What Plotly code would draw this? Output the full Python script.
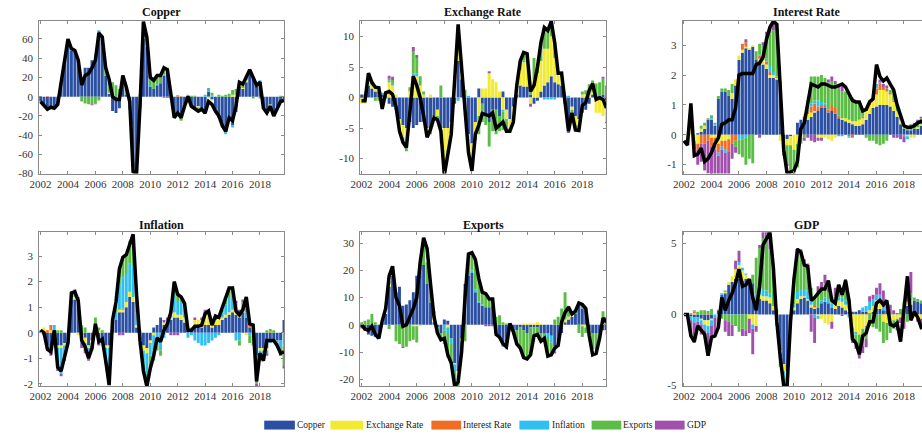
import plotly.graph_objects as go

# ---------------- data (quarterly, 2002Q1 .. 2019Q4) ----------------
years = list(range(2002, 2020))
quarters = [1, 2, 3, 4]
x_ticks = [2002, 2004, 2006, 2008, 2010, 2012, 2014, 2016, 2018]

components = ["Copper", "Exchange Rate", "Interest Rate", "Inflation", "Exports", "GDP"]
comp_colors = ["#2b4fa3", "#f2ea2e", "#f26d24", "#2fbff0", "#5bbd45", "#a150ad"]

# ---- Copper panel ----
cu_total = [-5, -9, -13, -11, -12, -8, 15, 35, 60, 50, 48, 38,
            12, 22, 24, 30, 38, 66, 62, 30, 18, 0, -3, -3,
            22, 10, -5, -78, -80, -10, 78, 62, 20, 17, 22, 22,
            30, 28, 0, -22, -17, -22, -10, 0, -10, -12, -15, -13,
            -17, -5, -8, -15, -20, -30, -36, -22, -25, -10, 15, 13,
            20, 28, 20, 12, 15, -12, -17, -10, -20, -12, -5, -4]
cu_cu = [-5, -9, -12, -11, -12, -8, 14, 33, 55, 48, 47, 38,
         18, 30, 30, 38, 42, 68, 62, 22, 3, -15, -17, -12,
         20, 2, -8, -72, -75, -12, 60, 52, 10, 8, 12, 14,
         22, 28, 2, -20, -18, -22, -8, -2, -10, -12, -10, -12,
         -14, 5, -3, -13, -22, -32, -37, -24, -30, -16, 10, 8,
         15, 26, 20, 10, 16, -10, -14, -8, -16, -10, -4, -3]
cu_er = [0, 0, -1, 0, 0, 0, 0, 0, 0, 0, 0, 0,
         0, 0, 0, 0, 1, 0, 0, 0, 1, 0, 0, 0,
         0, 0, -1, 0, -1, 0, 1, 0, 0, 0, 0, 0,
         0, 0, 0, 0, 0, 0, 0, 0, -1, -1, -1, 0,
         -2, -2, -1, 0, 0, 0, 0, 0, 2, 2, 2, 1,
         2, 0, 0, 0, 0, 0, 0, 0, 0, 0, -1, 0]
cu_ir = [0, 0, 0.5, 0, 0, 0, 0, 0, 0, 0, 0, 0,
         0, 0, 0, 0, 0, 0, 0, 0, 0, 0, 0, 0,
         0, 0, 0, 0, 0, 0, 0, 0, 0, 0, 0, 0,
         0, 0, 0, 0, 0.5, 0.5, 0, 0, 0, 0, 0, 0,
         0, 0, 0, 0, 0, 0, 0, 0, 0, 0, 0, 0,
         0, 0, 0, 0, 0, 0, 0, 0, 0, 0, 0, 0]
cu_inf = [0, 0, 0, 0, 0, 0, 0, 0, 1, 1, 0, 0,
          0, 0, 0, 0, 1, 1, 0, 0, 0, 0, 0, 0,
          0, 0, -1, -2, -2, 0, 2, 1, 1, 0, 1, 0,
          1, 0, 0, 0, 0, 0, 0, 0, 0, 0, -1, 0,
          2, 2, 1, 0, 0, 0, -2, -1, -2, 0, 0, 0,
          0, 0, 1, 0, 1, 0, 0, 0, 0, -1, 0, 0]
cu_exp = [0, 0, -1, 0, 0, 0, 1, 2, 2, 1, 0, 0,
          -5, -7, -8, -8, -7, -4, 0, 7, 14, 15, 12, 8,
          2, 6, -3, -4, -3, 2, 14, 8, 8, 9, 8, 8,
          6, 2, -2, -2, 1, -3, -2, 2, 1, 1, -3, -1,
          -2, 2, 3, -2, 2, 1, 2, 3, 5, 6, 4, 4,
          3, 2, -2, 2, -2, -2, -3, -2, -4, -2, 1, -1]
cu_gdp = [0, 0, 0, 0, 0, 0, 0, 0, 0, 0, 0, 0,
          0, 0, 0, -1, -1, 0, 0, 0, 0, 0, 0, 0,
          0, 0, 0, 0, 0, 0, 0, 0, 0, 0, 0, 0,
          -1, -1, 0, 0, 0, 0, 0, 0, 0, 0, 0, 0,
          0, 0, 0, 0, 0, 0, 0, 0, 0, 0, 0, 0,
          0, 0, 0, 0, 0, 0, 0, 0, 0, 0, 0, 0]

# ---- Exchange Rate panel ----
er_total = [-0.5, -0.5, 4.0, 2.5, 1.7, 1.6, -1.8, 0.8, 1.0, 0.5, -1.5, -5.5,
            -7.3, -8.2, -2.5, 3.5, 2.0, 0.0, -3.0, -6.5, -5.2, -3.3, -3.6, -5.5,
            -12.7, -9.0, -6.0, 3.0, 12.0, 5.0, -2.0, -9.0, -12.0, -6.0, -4.5, -2.6,
            -2.8, -3.0, -2.5, -5.0, -4.5, -4.0, -5.5, -5.5, -4.0, 2.0, 6.0, 7.4,
            7.2, 1.0, 2.0, 5.0, 9.0, 11.5, 11.0, 12.5, 9.0, 4.0, 4.0, -1.0,
            -5.5, -2.5, -5.3, -5.4, -1.3, -0.8, 1.2, 2.3, -0.3, 0.0, -0.3, -1.7]
er_cu = [0.5, 0.5, 2.0, 1.5, 1.0, 1.0, 0.5, 0.5, -1.0, -1.5, -2.0, -3.5,
         -4.5, -5.0, -4.0, -5.0, -4.5, -4.0, -4.0, -5.0, -5.5, -3.0, -2.0, -5.0,
         -5.0, -5.0, -4.0, -1.0, 6.0, 3.0, -2.0, -6.0, -7.5, -4.0, 1.5, -1.0,
         -3.0, -4.0, -2.0, -2.0, -3.0, 1.0, -2.0, -3.5, -1.5, 0.5, 2.0, 1.8,
         1.8, 0.5, -1.0, -0.5, 1.0, 2.0, 2.5, 3.5, 2.5, 2.2, 2.0, -1.0,
         -3.5, -1.5, -3.0, -3.5, -2.5, -2.0, -1.0, 0.5, 0.3, 0.3, 0.5, -0.5]
er_er = [-1.0, -1.0, 1.5, 0.5, 0.5, 0.5, -1.0, 0.5, 2.5, 2.0, 0.5, -1.5,
         -2.0, -2.5, 1.0, 3.5, 3.5, 2.0, 0.5, -1.0, 0.5, -0.2, -1.0, -2.5,
         -6.0, -3.5, -1.5, 1.5, 2.0, 1.0, -1.0, -2.0, -3.5, -2.0, -3.0, 1.5,
         1.5, 4.0, 3.0, 2.5, 1.0, -2.0, -1.5, -1.5, -2.0, 1.0, 2.5, 4.0,
         4.0, -1.0, 3.0, 4.0, 5.0, 6.0, 5.5, 6.5, 4.0, 1.5, 1.5, 0.0,
         -1.5, -0.5, -1.5, -1.2, 0.5, 0.5, 0.5, 0.5, -2.5, -2.5, -3.0, -3.5]
er_ir = [0, 0, 0, 0, 0, 0, 0, 0, 0, 0, 0, 0,
         0, 0, 0.2, 0, 0, 0, 0, 0, 0, 0, 0, 0,
         0, 0, 0, 0, 0, 0, 0, 0, 0, 0, 0, 0,
         0, 0, 0, 0, 0, 0, 0, 0, 0, 0, 0, 0,
         0, 0, 0, 0, 0, 0, 0, 0, 0, 0, 0, 0,
         0, 0, -0.2, 0, 0, 0, 0, 0, 0, 0, 0, 0]
er_inf = [0, 0, 0, 0, 0, 0.3, 0.3, 0, 0.3, 0.4, 0, 0,
          -0.5, -0.8, 0, 0.5, 0.5, 0, 0, 0, 0, 0, 0, 0,
          0, 0, 0, 0, -0.5, 0.3, 0.3, 0.3, 0, 0, 0, 0,
          0, 0, 0, 0, 0, -0.3, -0.5, 0, 0, 0, 0, 0.3,
          0, 0, 0, 0, 0, -0.3, -0.3, -0.3, -0.3, 0, 0.3, 0.3,
          0.3, 0, 0, 0, 0, 0, 0, 0, 0, 0, 0, 0]
er_exp = [0.0, 0.0, 0.5, 0.5, -0.5, -0.5, -1.0, -0.2, 0.3, 0.5, 0.0, -0.5,
          -0.5, -0.5, 0.5, 3.5, 2.5, 1.5, 0.5, -0.5, -0.5, 0.0, -0.5, 2.0,
          -1.5, -0.5, -0.5, 2.0, 2.0, 0.5, 1.0, -0.5, -0.5, -1.0, -3.0, -3.0,
          -1.5, -4.0, -3.5, -4.0, -2.5, -3.0, -1.5, -0.5, -0.5, 0.5, 1.0, 1.2,
          1.0, 1.5, 3.5, 1.5, 3.0, 3.5, 3.0, 2.5, 2.5, 0.3, 0.5, 0.0,
          -0.5, -0.5, -0.8, -0.7, 0.5, 0.7, 1.7, 1.8, 2.0, 2.2, 2.6, 2.0]
er_gdp = [0, 0, 0, 0, 0, 0, 0, 0, 0.5, 0.5, 0, 0,
          0, 0, 0, 0.8, 0.5, 0, 0, 0, 0, 0, 0, 0,
          0, 0, 0, 0, 0.3, 0, 0, 0, -0.5, 0, 0, 0,
          0, 0.3, 0, 0, 0, 0, 0, 0, 0, 0, 0.3, 0,
          0, -0.5, 0, 0, 0, 0, 0, 0, 0, 0, 0, 0,
          -0.3, 0, 0, 0, 0, 0, 0, 0, 0, 0, 0.3, -0.2]

# ---- Interest Rate panel ----
ir_total = [-0.2, -0.35, 1.05, -0.7, -0.65, -0.45, -0.9, -0.8, -0.6, -0.3, -0.1, 0.35,
            0.4, 0.5, 0.5, 0.9, 2.0, 2.05, 2.05, 2.05, 2.05, 2.35, 2.4, 2.6,
            3.2, 3.6, 3.8, 3.7, 1.5, -0.5, -1.3, -1.25, -1.2, -0.9, 0.2, 0.4,
            1.0, 1.7, 1.65, 1.6, 1.7, 1.7, 1.65, 1.6, 1.6, 1.65, 1.7, 1.6,
            1.4, 1.15, 1.1, 1.1, 0.8, 0.85, 1.1, 1.2, 2.35, 1.95, 1.8, 1.9,
            1.7, 1.5, 1.0, 0.6, 0.3, 0.25, 0.25, 0.3, 0.4, 0.45, 0.4, 0.35]
ir_cu = [0.0, 0.0, 0.0, 0.0, 0.05, 0.1, 0.2, 0.5, 0.5, 0.3, 1.2, 1.45,
         1.45, 1.3, 1.2, 1.65, 2.5, 2.75, 2.9, 2.85, 2.95, 2.5, 2.45, 2.35,
         2.2, 1.9, 1.9, 1.85, 1.6, -0.2, -0.15, -0.05, 0.0, 0.4, 0.5, 0.6,
         0.5, 0.6, 0.75, 0.8, 0.9, 0.9, 0.75, 0.8, 0.7, 0.55, 0.5, 0.45,
         0.4, 0.35, 0.3, 0.3, 0.35, 0.5, 0.7, 0.9, 0.95, 1.0, 1.0, 1.0,
         0.95, 0.8, 0.6, 0.35, 0.2, 0.15, 0.15, 0.2, 0.2, 0.3, 0.3, 0.3]
ir_er = [0.0, -0.1, 0.2, -0.2, -0.3, 0.1, 0.1, 0.0, -0.1, -0.1, -0.3, -0.2,
         -0.2, -0.15, 0.2, 0.2, 0.15, 0.1, 0.05, 0.05, 0.05, 0.0, 0.1, 0.15,
         0.15, 0.1, 0.1, 0.05, -0.2, -0.1, -0.2, -0.3, -0.5, -0.3, -0.1, 0.1,
         0.2, 0.15, 0.05, -0.1, -0.1, -0.1, -0.15, -0.2, -0.1, 0.0, 0.05, 0.1,
         0.1, 0.1, 0.15, 0.2, 0.2, 0.3, 0.3, 0.3, 0.4, 0.5, 0.5, 0.45,
         0.4, 0.3, 0.2, 0.15, 0.0, -0.05, -0.1, -0.1, 0.05, 0.05, 0.0, 0.0]
ir_ir = [0.0, 0.0, 0.1, -0.1, -0.2, -0.3, -0.3, -0.2, -0.3, -0.4, -0.3, -0.2,
         -0.3, -0.4, -0.3, -0.2, 0.0, 0.2, 0.15, 0.0, 0.0, 0.0, 0.1, 0.15,
         0.1, 0.1, 0.0, 0.0, 0.0, 0.0, 0.0, 0.0, 0.0, 0.0, 0.0, 0.0,
         0.1, 0.2, 0.25, 0.15, 0.1, 0.1, 0.1, 0.2, 0.2, 0.1, 0.0, 0.0,
         -0.05, -0.1, 0.0, 0.0, 0.05, 0.05, 0.1, 0.1, 0.2, 0.2, 0.1, 0.1,
         0.05, 0.05, 0.0, 0.0, 0.0, 0.0, 0.0, 0.0, 0.0, 0.0, 0.0, 0.0]
ir_inf = [0.0, 0.0, 0.0, 0.0, 0.0, 0.0, 0.0, 0.0, 0.05, 0.05, -0.1, -0.1,
          -0.1, 0.0, 0.0, 0.0, -0.15, -0.15, -0.1, 0.0, 0.0, 0.0, 0.05, 0.05,
          0.1, 0.2, 0.1, 0.05, 0.0, 0.0, 0.0, 0.0, 0.0, 0.0, 0.0, 0.0,
          0.05, 0.1, 0.1, 0.2, 0.1, 0.05, 0.0, 0.0, 0.0, -0.05, -0.05, 0.0,
          -0.05, 0.0, 0.0, 0.0, 0.0, 0.0, 0.05, 0.05, 0.15, 0.05, 0.0, 0.0,
          0.0, 0.0, 0.0, 0.0, -0.05, -0.1, 0.0, 0.0, 0.0, 0.0, 0.0, 0.0]
ir_exp = [0.0, 0.0, 0.0, 0.0, 0.0, 0.1, 0.1, 0.05, 0.1, 0.05, 0.1, 0.1,
          0.1, 0.2, 0.3, -0.2, -0.5, -0.6, -0.9, -0.8, -0.95, 0.3, 0.35, 0.3,
          0.8, 1.1, 1.4, 1.55, 0.2, -0.3, -0.6, -0.9, -1.0, -0.8, -0.2, -0.1,
          0.3, 0.9, 0.8, 0.8, 0.9, 0.85, 0.9, 0.8, 0.8, 0.9, 0.9, 0.9,
          0.9, 0.8, 0.65, 0.6, 0.2, -0.1, -0.2, -0.2, -0.3, -0.35, -0.3, -0.2,
          0.1, 0.3, 0.2, 0.1, 0.05, 0.1, 0.2, 0.1, 0.15, 0.2, 0.2, 0.15]
ir_gdp = [0.0, -0.1, 0.0, -0.2, -0.5, -0.6, -0.9, -1.1, -1.2, -1.3, -1.2, -1.1,
          -1.0, -0.9, -0.5, -0.2, 0.0, 0.0, 0.1, 0.0, 0.0, 0.0, -0.1, 0.1,
          0.1, 0.2, 0.3, 0.2, 0.0, -0.1, -0.1, 0.0, -0.05, 0.0, 0.0, -0.1,
          -0.1, -0.2, -0.25, -0.1, -0.1, 0.0, 0.1, 0.15, 0.1, 0.1, 0.2, 0.0,
          0.0, 0.0, 0.0, 0.0, 0.0, 0.0, 0.0, 0.0, 0.0, 0.1, 0.1, 0.1,
          0.0, -0.1, -0.1, -0.15, -0.2, 0.0, 0.0, 0.1, 0.1, 0.05, 0.0, 0.0]

# ---- Inflation panel ----
inf_total = [0.1, 0.0, -0.65, -0.75, 0.1, -1.35, -1.5, -1.0, -0.4, 1.55, 1.6, 1.25,
             -0.3, -0.55, -1.0, -0.6, 0.35, -0.35, -0.25, -1.1, -2.05, 0.5, 1.2, 2.5,
             2.95, 3.05, 3.5, 3.85, 1.5, -0.3, -1.5, -2.1, -1.4, -0.9, -0.2, -0.35,
             0.1, 0.35, 0.8, 2.0, 1.5, 1.4, 1.15, 0.1, 0.1, 0.25, 0.25, 0.3,
             0.75, 0.85, 0.3, 0.65, 0.6, 1.0, 1.3, 1.75, 1.75, 0.85, 0.7, 0.9,
             1.4, 0.35, 0.3, -1.9, -0.8, -1.1, -0.3, -0.3, -0.3, -0.5, -0.8, -0.75]
inf_cu = [0.0, -0.1, -0.5, -0.6, -0.2, -0.5, -0.5, -0.4, -0.3, 1.3, 1.3, 1.1,
          -0.1, -0.2, -0.5, -0.3, -0.1, -0.3, -0.3, -0.5, -0.5, 0.2, 0.5, 0.8,
          0.8, 1.0, 1.4, 1.2, 0.2, -0.3, -0.5, -0.6, -0.3, 0.2, 0.3, 0.6,
          0.3, 0.3, 0.5, 0.6, 0.6, 0.5, 0.4, 0.1, 0.1, 0.2, 0.2, 0.2,
          0.3, 0.3, 0.2, 0.3, 0.3, 0.5, 0.6, 0.7, 0.8, 0.7, 0.6, 0.8,
          0.6, 0.2, 0.1, -0.9, -0.6, -0.6, -0.6, -0.3, -0.3, -0.3, -0.3, 0.5]
inf_er = [0.0, 0.2, 0.0, 0.1, 0.0, -0.1, -0.1, -0.1, 0.0, 0.1, 0.1, -0.1,
          -0.2, -0.2, -0.1, -0.1, 0.2, 0.1, 0.0, -0.1, -0.1, 0.0, 0.0, 0.1,
          0.1, 0.2, 0.2, 0.2, 0.1, -0.1, -0.2, -0.2, -0.1, -0.1, 0.0, 0.0,
          0.1, 0.1, 0.1, 0.2, 0.1, 0.2, 0.2, 0.1, 0.1, 0.3, 0.3, 0.3,
          0.4, 0.4, 0.2, 0.2, 0.2, 0.1, 0.1, 0.1, 0.1, 0.2, 0.2, 0.0,
          -0.1, 0.0, 0.0, 0.0, -0.1, -0.1, -0.1, 0.0, 0.0, 0.0, 0.0, 0.0]
inf_ir = [0.0, 0.0, 0.1, 0.2, 0.0, 0.0, 0.0, 0.0, 0.0, 0.0, 0.0, 0.0,
          0.0, 0.0, 0.0, 0.0, 0.0, 0.0, 0.0, 0.0, 0.0, 0.0, 0.0, 0.0,
          0.05, 0.0, 0.0, 0.0, 0.0, 0.0, 0.0, 0.0, 0.0, 0.0, 0.0, 0.0,
          0.0, 0.0, 0.0, 0.0, 0.0, 0.0, 0.0, 0.0, 0.0, 0.0, 0.0, 0.0,
          0.0, 0.0, 0.0, 0.0, 0.0, 0.0, 0.0, 0.0, 0.0, 0.05, 0.0, 0.0,
          0.0, 0.1, 0.0, 0.0, 0.0, 0.0, 0.0, 0.05, 0.0, 0.0, 0.0, 0.0]
inf_inf = [0.1, 0.0, -0.1, -0.2, 0.3, -0.8, -1.0, -0.5, -0.1, 0.2, 0.3, 0.1,
           -0.1, -0.2, -0.3, -0.1, 0.1, -0.1, 0.0, -0.3, -1.0, 0.2, 0.3, 1.0,
           1.2, 1.1, 1.1, 1.2, 0.5, -0.1, -0.5, -0.8, -0.5, -0.6, -0.5, -0.7,
           -0.2, 0.1, 0.2, 0.7, 0.5, 0.5, 0.3, -0.2, -0.1, -0.3, -0.4, -0.5,
           -0.5, -0.4, -0.3, -0.2, -0.1, 0.2, 0.4, 0.6, 0.6, -0.3, -0.3, 0.2,
           0.2, -0.1, 0.0, -0.6, -0.2, -0.3, -0.1, -0.1, 0.0, -0.1, -0.3, -0.5]
inf_exp = [0.0, 0.0, 0.0, 0.0, 0.0, 0.1, 0.1, 0.0, 0.0, 0.0, 0.0, 0.2,
           0.3, 0.2, -0.1, -0.1, 0.3, 0.1, 0.1, -0.2, -0.4, 0.1, 0.3, 0.6,
           0.8, 0.8, 0.9, 1.2, 0.6, 0.1, -0.3, -0.4, -0.5, -0.4, -0.2, -0.2,
           0.0, 0.0, 0.1, 0.5, 0.3, 0.2, 0.2, 0.0, 0.0, 0.0, 0.0, 0.0,
           0.1, 0.1, 0.0, 0.0, 0.0, 0.1, 0.2, 0.3, 0.3, 0.2, -0.2, 0.2,
           0.3, -0.3, -0.5, -0.5, 0.0, 0.0, 0.1, 0.1, 0.1, 0.0, -0.2, -0.8]
inf_gdp = [0.0, 0.0, -0.1, -0.1, 0.0, -0.1, -0.1, -0.1, 0.0, 0.0, 0.0, 0.0,
           -0.2, -0.2, -0.1, -0.1, 0.0, -0.1, -0.1, -0.1, 0.0, 0.0, 0.0, -0.1,
           -0.1, 0.0, 0.0, 0.0, 0.0, 0.0, 0.0, 0.0, 0.0, 0.0, 0.0, 0.0,
           0.1, 0.1, -0.1, -0.1, -0.1, 0.0, 0.0, 0.0, 0.0, 0.1, 0.0, 0.1,
           0.1, 0.1, 0.1, 0.1, 0.0, 0.0, 0.0, 0.0, 0.0, 0.1, 0.1, 0.1,
           0.1, 0.1, 0.0, -0.1, -0.1, -0.1, -0.1, 0.0, 0.0, -0.1, -0.1, -0.1]

# ---- Exports panel ----
exp_total = [0, -1.5, -2.0, -0.5, -3.5, -5, 1.5, 6, 18, 21.5, 10, 7,
             -0.5, 0, 3, 6, 10, 23, 32, 28, 15, 3, -3, -5.5,
             -5, -11, -14, -22.5, -21, -10, 10, 26, 26.5, 24, 17, 12,
             11.5, 9.5, 9.5, -3.5, -4.5, -7, -8, 0.5, -2.5, -7, -8.5, -12,
             -12.5, -11, -4, -3.5, -6, -5, -11.5, -11, -8.5, -7.5, 1, 4.5,
             6.5, 4, 5, 8, 7.5, 6, -4, -11, -10.5, -5, 2.5, 1]
exp_cu = [-1, -2, -3.5, -4, -4.5, -5, 0.5, 4, 14, 18, 12, 14,
          7, 7.5, 9, 12, 18, 22, 22, 15, 8, 1, -1, -3,
          2, 1.5, -5, -14, -17, -5, 15, 18, 19, 12, 8, 7,
          6.5, 6.5, 7, -3, -4, -7, -8, 0.5, -2, -2, -1, -2,
          -3, -1, -1, -1, -3, -3, -3, -4, -8, -7, -3, 1,
          2, 3, 4, 7, 6, 6, -2, -3, -3, -3, -2, -2]
exp_er = [0, 0, 0, 0, 0, 0, 0, 0, 1, 0.5, 0, 0,
          0, -0.5, 0, -0.5, -0.5, -0.5, 0, 0, 0, 2, 0, 0,
          0, -1, 0, -0.5, -1.5, -1, 0, 0, 0, 0, 0, 0,
          0, 0, 0, 0, 0, 0, 0, 0, 0, 0, 0, 0.5,
          0.5, 0.5, 0.5, 1, 0.5, 0, 0, 0, 0, 0, 1, 1,
          1, 1, 0, 0, -0.5, -1, 0, 0, 0, 0, 0, -1.5]
exp_ir = [-0.3, -0.3, 0, 0, 0, 0, 0, 0, 0, 0, 0, 0,
          0, 0, 0, 0, 0, 0, 0, 0, 0, 0, 0, 0,
          0, 0, 0, 0, 0, 0, 0, 0, 0, 0, 0, 0,
          0, 0, 0, 0, 0, 0, 0, 0, 0, 0, 0, 0,
          0, 0, 0, 0, 0, 0, 0, 0, 0, 0, 0, 0,
          0, 0, 0, 0, 0, 0, 0, 0, 0, 0, 0, 0]
exp_inf = [0, 0, 0, 0, 0, 0, 0, 0, 1, 1, 0, 0,
           0, 0, 0, 0, 0, 0, 0, 0, 0, 0, 0, 0,
           -2, -2, -2, -3, -1, -1, 0, 1, 1, 1, 0.5, 0.5,
           0, 0, 0, 0, 0, -1, -1, 0, 0, 0, 0, 0,
           0, 0, 0, 0, 0, 0, -1.5, -2.5, -2, -1, 0, 0,
           0, 0, 0, 0, 1, 0, 0, 0, 0, 0, 0, 0]
exp_exp = [1, 1.5, 2, 4, 1, 0, 0.5, 0, -1.5, 0, -6, -7,
           -8, -7.5, -6, -5, -6, 0.5, 8, 8, 7, 2, -2, -2.5,
           -5, -9, -7, -5, -3, -3, -6, 7, 6.5, 11, 8, 5,
           5, 2.5, 2.5, 3, 3.5, 1, 0.5, 0, -1, -5, -7, -9,
           -9, -10, -3, -3, -3, -2, -6, -4, 2, 3, 5, 10,
           4, 1, 1, -3, -4, -2, -2, -6, -6, -2, 5, 3]
exp_gdp = [0, 0, 0, 0, 0, 0, 0, 0, 0, 0, 0, 0,
           -0.5, 0, 0, 0, 0, 0, 0, 0, 0, 0, 0, 0,
           0, 0, 0, 0, -0.5, 0, 0, 0, 0, 0, 0, 0,
           -0.5, -0.5, -0.5, 0, 0, 0, 0, 0, 0, 0, 0, 0,
           -0.5, 0, 0, 0, 0, 0, 0, 0, -0.5, 0, 0, 0,
           0, 0, 0, 1, 0.5, 0, 0, 0, 0, 0, 0, 0]

# ---- GDP panel ----
gdp_total = [0.0, 0.0, -1.5, -1.9, -0.8, -1.1, -1.4, -2.9, -1.6, -1.5, -0.9, 1.2,
             0.3, 1.0, 1.5, 2.2, 3.2, 2.0, 2.1, 2.5, 1.2, 0.3, 2.0, 4.9,
             5.3, 5.8, 3.3, -0.5, -3.0, -5.0, -5.0, -0.5, 2.5, 4.6, 4.4, 3.5,
             3.4, 1.0, 1.2, 1.5, 1.8, 1.8, 2.4, 1.0, 0.8, 2.1, 1.4, 2.4,
             1.0, -1.7, -2.0, -2.8, -1.5, -1.3, -0.5, -0.5, 0.8, 1.0, 0.7, 1.0,
             -0.7, -0.8, -0.6, -1.9, 0.5, 2.7, -0.4, 0.2, -0.2, -0.9, -0.8, -0.5]
gdp_cu = [0, 0, -0.1, -0.2, -0.2, -0.3, -0.4, -0.4, -0.3, 0.0, 0.3, 1.4,
          1.5, 2.1, 2.3, 2.5, 2.5, 2.4, 2.5, 2.3, 2.2, 1.0, 1.1, 1.0,
          1.0, 0.8, 0.3, -0.4, -2.5, -3.5, -4.0, -0.8, 0.3, 0.8, 1.1, 1.2,
          1.0, 0.5, 0.4, 0.5, 0.8, 0.9, 0.8, 0.5, 0.4, 0.6, 0.5, 0.3,
          0.2, 0.2, 0.2, 0.3, 0.2, 0.2, 0.1, 0.2, 0.4, 0.4, 0.3, 0.3,
          0.1, 0.1, 0.1, 0.1, 0.3, 0.6, 0.7, 1.0, 0.9, 0.8, 0.4, 0.3]
gdp_er = [0, 0, 0, 0.1, 0.0, -0.1, -0.3, -0.4, -0.1, 0.0, 0.1, 0.0,
          0.1, 0.2, 0.4, 0.7, 1.0, 0.7, 0.3, -0.3, -0.7, -0.8, 0.3, 0.3,
          0.3, 0.4, 0.3, 0.1, -0.3, -0.5, -0.5, 0.0, 0.2, 0.3, 0.2, 0.1,
          0.1, 0.2, 0.1, -0.1, -0.3, -0.6, -0.7, -0.5, 0.3, 0.4, 0.4, 0.4,
          0.2, -0.9, -1.2, -1.4, -1.0, -0.8, 0.2, 0.4, 0.6, 0.6, -0.5, -0.6,
          -0.5, -0.4, -0.3, -0.2, 0.1, 0.3, 0.3, -0.2, -0.2, -0.3, -0.3, -0.2]
gdp_ir = [0, 0, 0.1, 0.1, 0, 0, 0, 0.05, 0, 0, 0, 0,
          0, 0, 0, 0, 0, 0, 0, 0, 0, 0.1, 0, 0,
          0, 0, 0, 0, 0, 0, 0, 0, 0, 0, 0, 0,
          0, 0, 0.1, 0, 0, 0, 0, 0, 0, 0, 0, 0,
          0, 0, 0, 0, 0, 0, 0, 0, 0, 0, 0, 0,
          0, 0, 0, 0, 0, 0, 0, 0, 0, 0, 0, 0]
gdp_inf = [0, 0, -0.3, -0.4, -0.3, -0.3, -0.4, -0.5, -0.4, -0.2, 0.0, 0.1,
           0.1, 0.0, -0.1, 0.0, 0.2, 0.2, 0.1, 0.0, -0.3, 0.3, 0.5, 0.5,
           0.4, 0.3, 0.0, -0.2, -0.4, -0.5, -0.3, 0.0, 0.2, 0.5, 0.5, 0.5,
           0.6, 0.4, -0.2, -0.2, 0.2, 0.3, 0.3, 0.3, 0.3, 0.2, 0.3, 0.3,
           -0.2, -0.3, -0.2, 0.0, 0.3, 0.4, 0.6, 0.5, 0.4, 0.4, 0.2, 0.0,
           0.0, 0.0, 0.0, 0.0, 0.0, 0.0, 0.2, 0.0, 0.0, 0.0, -0.1, 0.0]
gdp_exp = [0, 0, 0, 0.1, 0.2, 0.3, 0.3, 0.2, 0.4, 0.0, -0.2, -0.3,
           -0.4, -0.5, -0.6, -0.8, -1.2, -1.0, -1.1, 0.0, 0.6, 2.6, 2.8, 3.6,
           3.5, 3.1, 2.0, 0.3, -0.5, -1.5, -1.0, 0.0, 1.5, 2.5, 2.4, 1.8,
           1.6, 0.8, 0.6, 1.1, 0.9, 1.0, 0.5, 0.4, 0.3, 0.4, 0.6, 0.6,
           0.3, -0.3, -0.8, -1.3, -1.2, -0.9, -0.8, -0.9, -1.0, -1.2, -1.5, -1.2,
           -0.8, -0.6, -0.2, 0.3, 0.5, -0.5, 0.3, 0.2, 0.2, 0.2, -0.4, 0.0]
gdp_gdp = [0, 0, -1.1, -1.4, -0.5, -0.7, -0.4, -1.6, -0.8, -1.2, -0.7, 0.0,
           -0.8, -1.0, -0.8, 0.6, 0.8, -0.5, -0.4, -1.0, -1.8, -0.4, 0.2, 0.5,
           0.7, 0.8, 0.4, -0.2, 0.0, 0.0, 0.0, 0.0, 0.4, 0.6, 0.4, 0.3,
           0.3, -1.2, -1.8, 0.4, 0.4, 0.6, 0.3, -0.5, 0.6, 0.5, -0.1, 0.9,
           0.4, -0.5, -0.2, -0.4, -0.5, -0.6, 0.4, 0.3, 0.5, 0.8, 1.2, 0.4,
           0.6, 0.2, -0.6, -0.4, -1.0, 0.6, 1.5, 0.0, -0.3, -0.6, -0.5, -0.7]

# ---------------- figure ----------------
W, H = 922, 438
xq = [y + (q - 1) * 0.25 for y in years for q in quarters]

panels = [
    dict(title="Copper", total=cu_total, parts=[cu_cu, cu_er, cu_ir, cu_inf, cu_exp, cu_gdp],
         yr=[-80, 79], yt=[-80, -60, -40, -20, 0, 20, 40, 60]),
    dict(title="Exchange Rate", total=er_total, parts=[er_cu, er_er, er_ir, er_inf, er_exp, er_gdp],
         yr=[-12.45, 12.6], yt=[-10, -5, 0, 5, 10]),
    dict(title="Interest Rate", total=ir_total, parts=[ir_cu, ir_er, ir_ir, ir_inf, ir_exp, ir_gdp],
         yr=[-1.3, 3.82], yt=[-1, 0, 1, 2, 3]),
    dict(title="Inflation", total=inf_total, parts=[inf_cu, inf_er, inf_ir, inf_inf, inf_exp, inf_gdp],
         yr=[-2.09, 3.93], yt=[-2, -1, 0, 1, 2, 3]),
    dict(title="Exports", total=exp_total, parts=[exp_cu, exp_er, exp_ir, exp_inf, exp_exp, exp_gdp],
         yr=[-22.5, 34], yt=[-20, -10, 0, 10, 20, 30]),
    dict(title="GDP", total=gdp_total, parts=[gdp_cu, gdp_er, gdp_ir, gdp_inf, gdp_exp, gdp_gdp],
         yr=[-5.04, 5.8], yt=[-5, 0, 5]),
]

# pixel boxes of the panels (left, right, top, bottom); third column runs off the page
cols = [(29.5, 277.0), (354.0, 603.0), (680.0, 922.0)]
rows = [(21.0, 176.0), (235.5, 391.5)]
xr_full = [2001.9, 2019.75]
xr_cut = [2001.9, 2019.31]
title_y = [12.0, 228.0]
title_cx = [153.0, 478.5, 805.0]

font = "Liberation Serif"
frame = "#8a8a8a"

fig = go.Figure()
layout = dict(
    width=W, height=H, margin=dict(l=0, r=0, t=0, b=0),
    paper_bgcolor="white", plot_bgcolor="white",
    barmode="relative", bargap=0.15, showlegend=False,
    font=dict(family=font, size=11, color="#333333"),
    annotations=[], shapes=[],
)

for k, p in enumerate(panels):
    r, c = divmod(k, 3)
    n = k + 1
    xa = "x" if n == 1 else f"x{n}"
    ya = "y" if n == 1 else f"y{n}"
    for name, col, vals in zip(components, comp_colors, p["parts"]):
        fig.add_trace(go.Bar(x=xq, y=vals, xaxis=xa, yaxis=ya, name=name,
                             marker=dict(color=col, line=dict(width=0)),
                             showlegend=False, hoverinfo="skip"))
    fig.add_trace(go.Scatter(x=xq, y=p["total"], xaxis=xa, yaxis=ya, mode="lines",
                             line=dict(color="black", width=3.5), showlegend=False,
                             name=p["title"]))
    x0, x1 = cols[c]
    t0, t1 = rows[r]
    cut = (c == 2)
    layout["xaxis" if n == 1 else f"xaxis{n}"] = dict(
        domain=[x0 / W, x1 / W], anchor=ya, range=xr_cut if cut else xr_full,
        tickvals=x_ticks, ticktext=[str(v) for v in x_ticks],
        showline=True, linecolor=frame, linewidth=1, mirror="ticks",
        ticks="inside", ticklen=3, tickcolor=frame, showgrid=False, zeroline=False,
        tickfont=dict(family=font, size=11, color="#333333"),
    )
    layout["yaxis" if n == 1 else f"yaxis{n}"] = dict(
        domain=[1 - t1 / H, 1 - t0 / H], anchor=xa, range=p["yr"],
        tickvals=p["yt"], ticktext=[str(v) for v in p["yt"]],
        showline=True, linecolor=frame, linewidth=1, mirror=False if cut else "ticks",
        ticks="inside", ticklen=3, tickcolor=frame, showgrid=False, zeroline=False,
        tickfont=dict(family=font, size=11, color="#333333"), ticklabelstandoff=3,
    )
    layout["annotations"].append(dict(
        text=f"<b>{p['title']}</b>", xref="paper", yref="paper",
        x=title_cx[c] / W, y=1 - title_y[r] / H, xanchor="center", yanchor="middle",
        showarrow=False, font=dict(family=font, size=12, color="#111111")))

# legend drawn as colour patches with text labels
leg_patch = [(257, 288), (324, 357), (426, 456), (515, 545), (588, 618), (652, 682)]
leg_text_x = [289, 359, 457, 547, 619, 683]
for name, col, (a, b), tx in zip(components, comp_colors, leg_patch, leg_text_x):
    layout["shapes"].append(dict(type="rect", xref="paper", yref="paper",
                                 x0=a / W, x1=b / W, y0=1 - 435.5 / H, y1=1 - 426.5 / H,
                                 fillcolor=col, line=dict(width=0)))
    layout["annotations"].append(dict(text=name, xref="paper", yref="paper",
                                      x=tx / W, y=1 - 431 / H, xanchor="left", yanchor="middle",
                                      showarrow=False, borderpad=0,
                                      font=dict(family=font, size=9.5, color="#222222")))

fig.update_layout(**layout)
fig.write_html("out.html", config={"displayModeBar": False, "staticPlot": True},
               post_script="document.body.style.margin='0';document.body.style.overflow='hidden';")
